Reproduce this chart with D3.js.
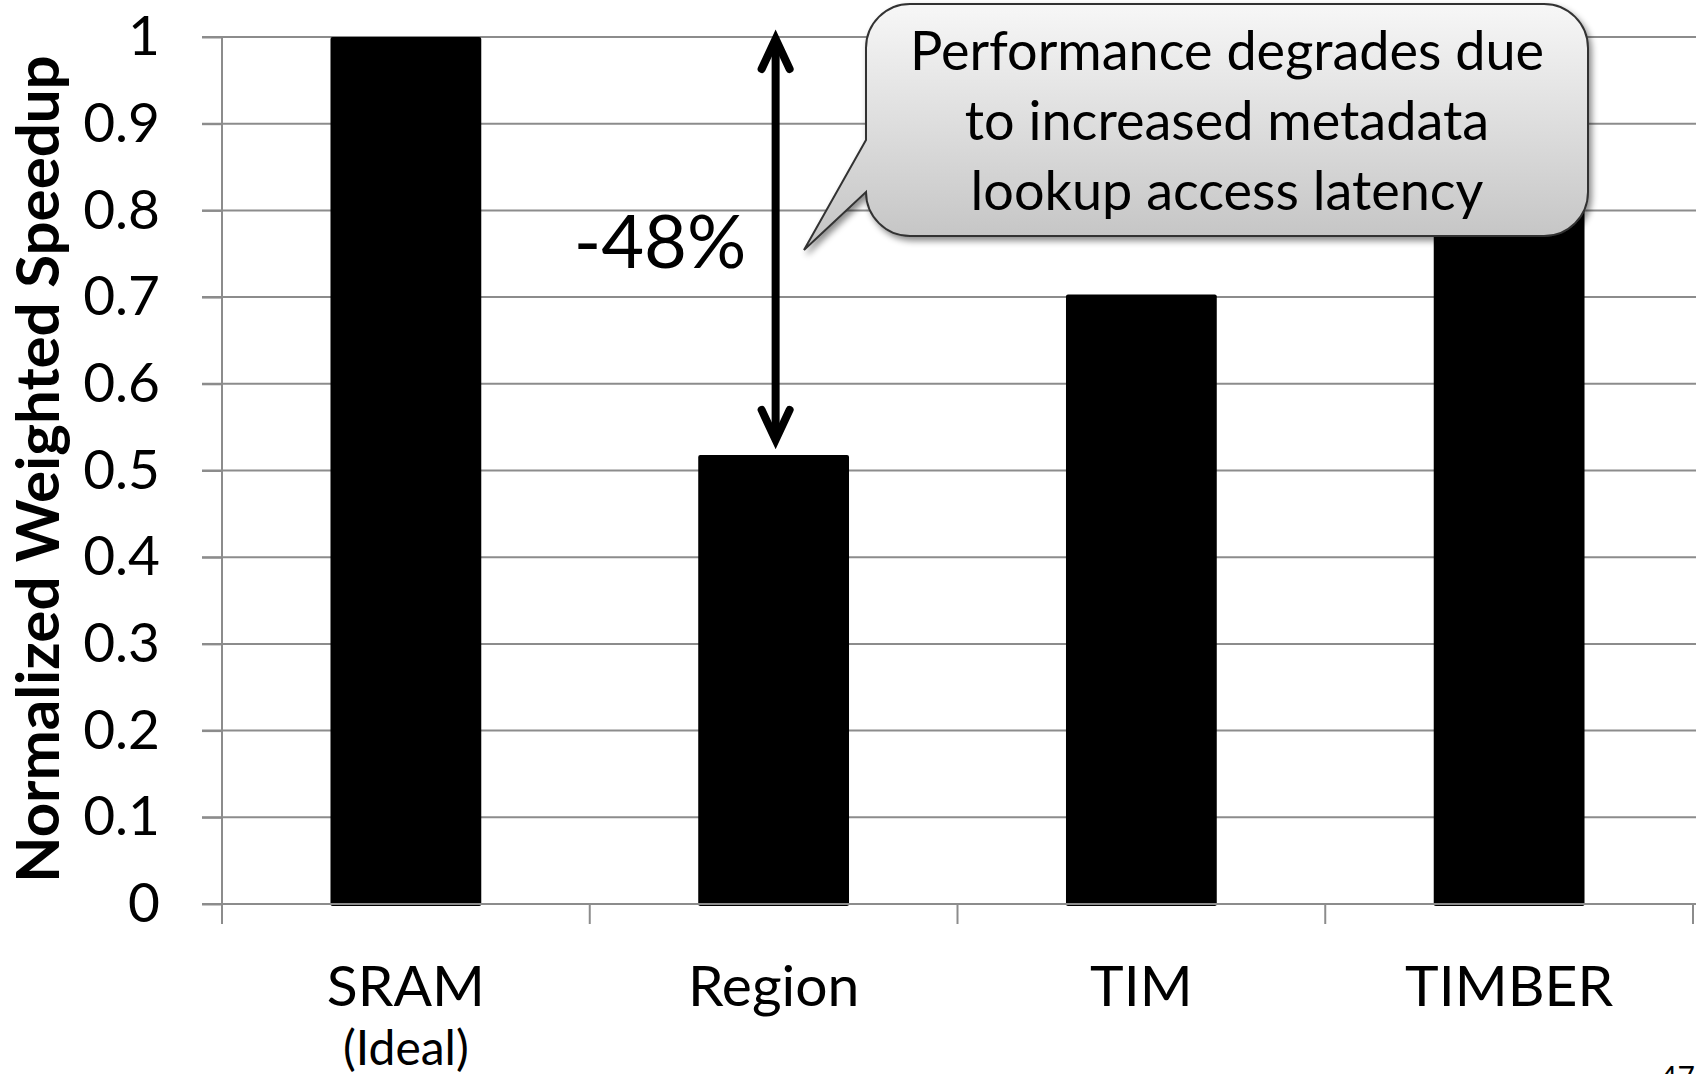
<!DOCTYPE html>
<meta charset="utf-8">
<style>
  body { margin: 0; background: #fff; }
  text { font-family: Lato, "Open Sans", sans-serif; fill: #000; }
  .grid line { stroke: #8c8c8c; stroke-width: 2px; }
</style>
<svg width="1696" height="1074"></svg>
<script src="https://d3js.org/d3.v7.min.js"></script>
<script>
  // chart data
  var categories = ["SRAM", "Region", "TIM", "TIMBER"];
  var subLabels = ["(Ideal)", "", "", ""];
  var speedup = [1.0, 0.518, 0.703, 0.94];
  var yTicks = [0, 0.1, 0.2, 0.3, 0.4, 0.5, 0.6, 0.7, 0.8, 0.9, 1];
  var calloutLines = ["Performance degrades due", "to increased metadata", "lookup access latency"];
  var dropLabel = "-48%";

  var svg = d3.select("svg"),
    width = +svg.attr("width"),
    height = +svg.attr("height");

  var plotLeft = 222, plotRight = 1693, plotTop = 37, plotBottom = 904;

  var x = d3.scaleBand()
    .domain(categories)
    .range([plotLeft, plotRight])
    .paddingInner(0.59)
    .paddingOuter(0.295);

  var y = d3.scaleLinear()
    .domain([0, 1])
    .range([plotBottom, plotTop]);

  // gridlines (start 20px left of the axis like the original tick marks)
  svg.append("g")
    .attr("class", "grid")
    .selectAll("line")
    .data(yTicks)
    .enter().append("line")
    .attr("x1", plotLeft - 20)
    .attr("x2", width)
    .attr("y1", function(d) { return y(d); })
    .attr("y2", function(d) { return y(d); });

  // y tick labels
  var yAxis = svg.append("g")
    .attr("transform", "translate(" + plotLeft + ",0)")
    .call(d3.axisLeft(y).tickValues(yTicks).tickSize(20).tickPadding(42)
      .tickFormat(function(d) { return d3.format("")(+d.toFixed(1)); }));
  yAxis.select(".domain").remove();
  yAxis.selectAll(".tick line").attr("stroke", "#8c8c8c").attr("stroke-width", 2);
  yAxis.selectAll("text")
    .style("font-family", "Lato")
    .style("font-size", "55px")
    .attr("fill", "#000");

  // bars
  svg.append("g")
    .selectAll("rect")
    .data(speedup)
    .enter().append("rect")
    .attr("x", function(d, i) { return x(categories[i]); })
    .attr("width", x.bandwidth())
    .attr("y", function(d) { return y(d); })
    .attr("height", function(d) { return y(0) - y(d) + 2; })
    .attr("rx", 2)
    .attr("fill", "#000");

  // vertical axis + x axis line + category ticks
  var axisG = svg.append("g").attr("class", "grid");
  axisG.append("line")
    .attr("x1", plotLeft).attr("x2", plotLeft)
    .attr("y1", y(1)).attr("y2", y(0) + 20);
  axisG.append("line")
    .attr("x1", plotLeft - 20).attr("x2", width)
    .attr("y1", y(0)).attr("y2", y(0));
  var bounds = categories.map(function(c) { return x(c) - x.step() * x.paddingInner() / 2; });
  bounds.push(plotRight);
  axisG.selectAll(".xt")
    .data(bounds.slice(1))
    .enter().append("line")
    .attr("x1", function(d) { return d; })
    .attr("x2", function(d) { return d; })
    .attr("y1", y(0))
    .attr("y2", y(0) + 20);

  // x labels
  svg.append("g")
    .selectAll("text")
    .data(categories)
    .enter().append("text")
    .attr("text-anchor", "middle")
    .attr("x", function(d) { return x(d) + x.bandwidth() / 2; })
    .attr("y", 1006)
    .style("font-size", "57px")
    .text(function(d) { return d; });
  svg.append("g")
    .selectAll("text")
    .data(subLabels)
    .enter().append("text")
    .attr("text-anchor", "middle")
    .attr("x", function(d, i) { return x(categories[i]) + x.bandwidth() / 2; })
    .attr("y", 1065)
    .style("font-size", "48px")
    .text(function(d) { return d; });

  // y axis title
  svg.append("text")
    .attr("transform", "translate(59," + 469 + ") rotate(-90)")
    .attr("text-anchor", "middle")
    .style("font-size", "60px")
    .style("font-weight", "bold")
    .text("Normalized Weighted Speedup");

  // double arrow between SRAM and Region
  var ax = x("Region") + x.bandwidth() / 2 + 2;
  var y1 = y(speedup[0]) + 2, y2 = y(speedup[1]) - 15;
  var arrow = svg.append("g")
    .attr("stroke", "#000")
    .attr("stroke-width", 8)
    .attr("stroke-linecap", "round")
    .attr("stroke-linejoin", "miter")
    .attr("stroke-miterlimit", 10)
    .attr("fill", "none");
  arrow.append("line").attr("x1", ax).attr("x2", ax).attr("y1", y1 + 4).attr("y2", y2 - 4);
  arrow.append("path").attr("d", "M" + (ax - 14) + "," + (y1 + 30) + "L" + ax + "," + y1 + "L" + (ax + 14) + "," + (y1 + 30));
  arrow.append("path").attr("d", "M" + (ax - 14) + "," + (y2 - 30) + "L" + ax + "," + y2 + "L" + (ax + 14) + "," + (y2 - 30));

  svg.append("text")
    .attr("x", 660)
    .attr("y", 268)
    .attr("text-anchor", "middle")
    .style("font-size", "74px")
    .text(dropLabel);

  // callout bubble
  var defs = svg.append("defs");
  var grad = defs.append("linearGradient")
    .attr("id", "bubble")
    .attr("x1", 0).attr("y1", 0).attr("x2", 0).attr("y2", 1);
  grad.append("stop").attr("offset", "0%").attr("stop-color", "#f7f7f7");
  grad.append("stop").attr("offset", "100%").attr("stop-color", "#c3c3c3");
  defs.append("filter")
    .attr("id", "shadow")
    .attr("x", "-10%").attr("y", "-10%").attr("width", "130%").attr("height", "140%")
    .append("feDropShadow")
    .attr("dx", 3).attr("dy", 4).attr("stdDeviation", 3)
    .attr("flood-color", "#000").attr("flood-opacity", 0.45);

  var bx0 = 866, by0 = 4, bx1 = 1588, by1 = 236, r = 44;
  var bubblePath = d3.path();
  bubblePath.moveTo(bx0 + r, by0);
  bubblePath.lineTo(bx1 - r, by0);
  bubblePath.arcTo(bx1, by0, bx1, by0 + r, r);
  bubblePath.lineTo(bx1, by1 - r);
  bubblePath.arcTo(bx1, by1, bx1 - r, by1, r);
  bubblePath.lineTo(bx0 + r, by1);
  bubblePath.arcTo(bx0, by1, bx0, by1 - r, r);
  bubblePath.lineTo(804, 250);
  bubblePath.lineTo(bx0, 140);
  bubblePath.lineTo(bx0, by0 + r);
  bubblePath.arcTo(bx0, by0, bx0 + r, by0, r);
  bubblePath.closePath();

  svg.append("path")
    .attr("d", bubblePath.toString())
    .attr("fill", "url(#bubble)")
    .attr("stroke", "#333")
    .attr("stroke-width", 2)
    .attr("filter", "url(#shadow)");

  svg.append("g")
    .selectAll("text")
    .data(calloutLines)
    .enter().append("text")
    .attr("x", 1227)
    .attr("y", function(d, i) { return 70 + i * 70; })
    .attr("text-anchor", "middle")
    .style("font-size", "54px")
    .text(function(d) { return d; });

  // slide number, cut off at the bottom edge
  svg.append("text")
    .attr("x", 1660)
    .attr("y", 1088)
    .style("font-size", "30px")
    .attr("fill", "#333")
    .text("47");
</script>
